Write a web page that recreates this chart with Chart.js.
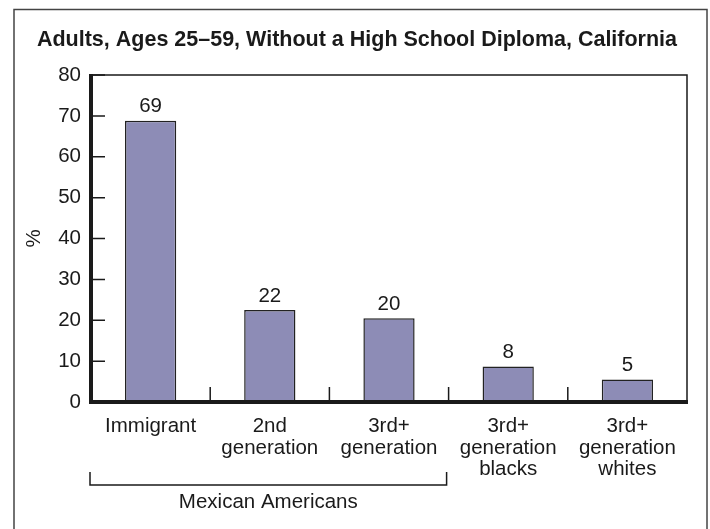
<!DOCTYPE html>
<html>
<head>
<meta charset="utf-8">
<script src="https://cdn.jsdelivr.net/npm/chart.js@4/dist/chart.umd.min.js"></script>
<style>
  html, body { margin: 0; padding: 0; background: #fff; }
</style>
</head>
<body>
<canvas id="chart" width="710" height="529"></canvas>
<script>
// Data
const categories = [
    ['Immigrant'],
    ['2nd', 'generation'],
    ['3rd+', 'generation'],
    ['3rd+', 'generation', 'blacks'],
    ['3rd+', 'generation', 'whites']
];
const shares = [68.8, 22.5, 20.5, 8.7, 5.5];      // bar heights, %
const shareLabels = ['69', '22', '20', '8', '5'];  // printed values
const yTicks = [0, 10, 20, 30, 40, 50, 60, 70, 80];
const groupName = 'Mexican Americans';
const groupSpan = [0, 2]; // first and last category in the bracket

const FONT = '"Liberation Sans", Arial, Helvetica, sans-serif';
const INK = '#1a1a1a';

// frame, ticks, value labels, bracket, outer box
const decorations = {
    id: 'decorations',
    afterDatasetsDraw(chart) {
        const { ctx, chartArea: a, scales: { x, y } } = chart;
        ctx.save();
        ctx.strokeStyle = INK;

        // thin top and right edges of the plot box
        ctx.lineWidth = 1.5;
        ctx.beginPath();
        ctx.moveTo(a.left, a.top);
        ctx.lineTo(a.right, a.top);
        ctx.lineTo(a.right, a.bottom);
        ctx.stroke();

        // y ticks point into the plot
        ctx.beginPath();
        yTicks.forEach(v => {
            const py = y.getPixelForValue(v);
            ctx.moveTo(a.left, py);
            ctx.lineTo(a.left + 14, py);
        });
        // short separators between categories
        for (let i = 0; i < categories.length - 1; i++) {
            const px = (x.getPixelForValue(i) + x.getPixelForValue(i + 1)) / 2;
            ctx.moveTo(px, a.bottom);
            ctx.lineTo(px, a.bottom - 15);
        }
        ctx.stroke();

        // heavy axes
        ctx.lineWidth = 4;
        ctx.beginPath();
        ctx.moveTo(a.left, a.top - 1);
        ctx.lineTo(a.left, a.bottom);
        ctx.lineTo(a.right + 1, a.bottom);
        ctx.stroke();

        // value labels above bars
        ctx.fillStyle = INK;
        ctx.font = '20.5px ' + FONT;
        ctx.textAlign = 'center';
        ctx.textBaseline = 'middle';
        chart.getDatasetMeta(0).data.forEach((bar, i) => {
            ctx.fillText(shareLabels[i], bar.x, bar.y - 14);
        });

        // bracket under the Mexican American groups
        const step = x.getPixelForValue(1) - x.getPixelForValue(0);
        const bx1 = x.getPixelForValue(groupSpan[0]) - step / 2 - 1;
        const bx2 = x.getPixelForValue(groupSpan[1]) + step / 2 - 2;
        const by = a.bottom + 83;
        ctx.lineWidth = 1.5;
        ctx.beginPath();
        ctx.moveTo(bx1, by - 13);
        ctx.lineTo(bx1, by);
        ctx.lineTo(bx2, by);
        ctx.lineTo(bx2, by - 13);
        ctx.stroke();
        ctx.fillText(groupName, (bx1 + bx2) / 2, by + 17);

        ctx.restore();
    },
    afterDraw(chart) {
        const { ctx } = chart;
        ctx.save();
        ctx.strokeStyle = '#444';
        ctx.lineWidth = 1.5;
        ctx.strokeRect(14, 9.5, 693, 540);
        ctx.restore();
    }
};

new Chart(document.getElementById('chart'), {
    type: 'bar',
    data: {
        labels: categories,
        datasets: [{
            data: shares,
            backgroundColor: '#8d8cb6',
            borderColor: '#222',
            borderWidth: 1.5,
            barPercentage: 0.43,
            categoryPercentage: 1
        }]
    },
    options: {
        responsive: false,
        animation: false,
        layout: { padding: { left: 27, right: 23, top: 0, bottom: 0 } },
        plugins: {
            legend: { display: false },
            tooltip: { enabled: false },
            title: {
                display: true,
                text: 'Adults, Ages 25\u201359, Without a High School Diploma, California',
                color: INK,
                font: { family: FONT, size: 21.5, weight: 'bold', lineHeight: 1.2 },
                padding: { top: 27, bottom: 22.2 }
            }
        },
        scales: {
            x: {
                grid: { display: false, drawTicks: false },
                border: { display: false },
                ticks: {
                    color: INK,
                    padding: 14,
                    maxRotation: 0,
                    autoSkip: false,
                    font: { family: FONT, size: 20.5, lineHeight: 1.05 }
                },
                afterFit(scale) { scale.height = 127; }
            },
            y: {
                min: 0,
                max: 80,
                grid: { display: false, drawTicks: false },
                border: { display: false },
                ticks: {
                    stepSize: 10,
                    color: INK,
                    padding: 10,
                    font: { family: FONT, size: 20.5 }
                },
                title: {
                    display: true,
                    text: '%',
                    color: INK,
                    font: { family: FONT, size: 20.5, lineHeight: 0.6 },
                    padding: { top: 1, bottom: 0 }
                },
                afterFit(scale) { scale.width = 64; }
            }
        }
    },
    plugins: [decorations]
});
</script>
</body>
</html>
